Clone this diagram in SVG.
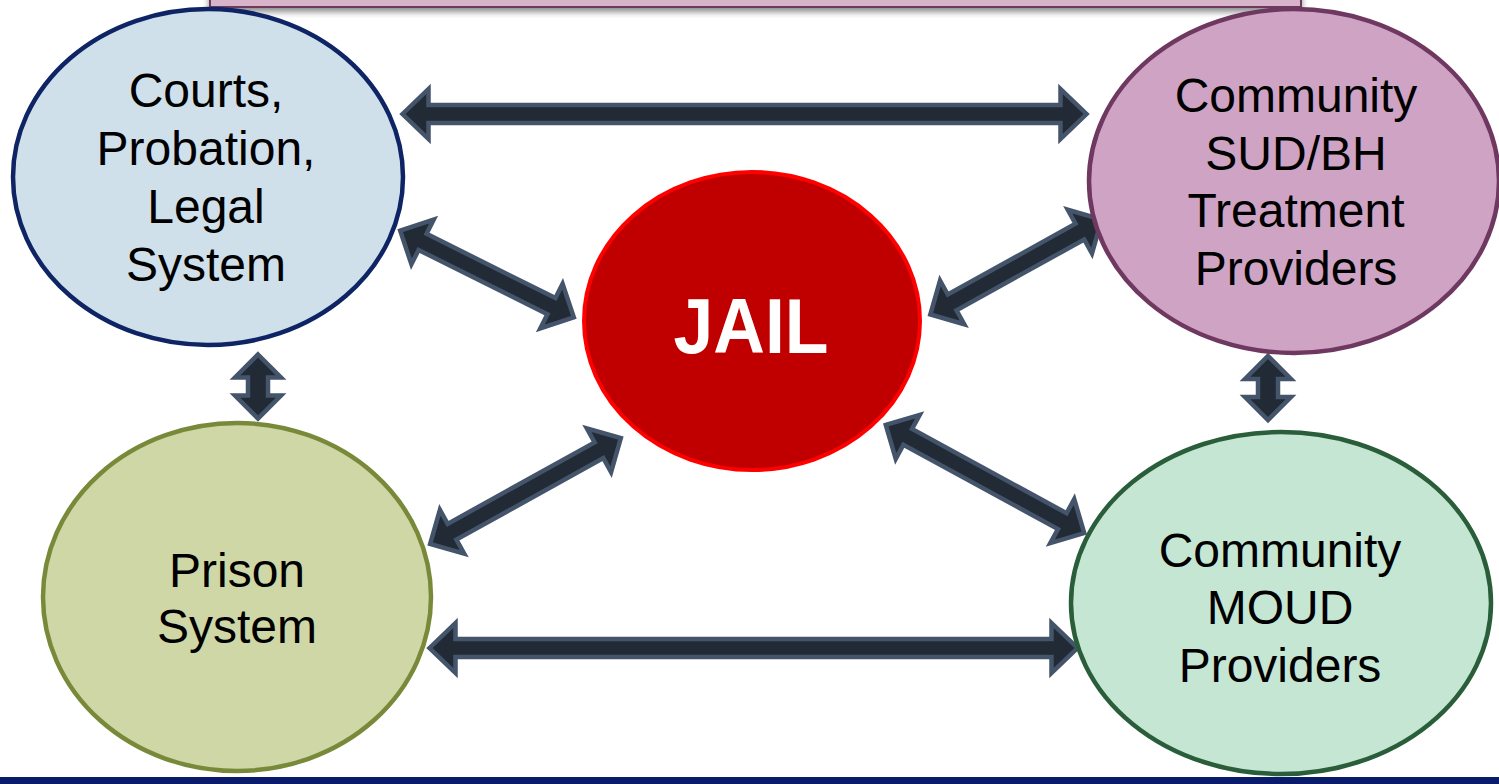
<svg xmlns="http://www.w3.org/2000/svg" width="1499" height="784" viewBox="0 0 1499 784">
<defs>
<filter id="sh" x="-5%" y="-50%" width="110%" height="300%">
<feGaussianBlur in="SourceAlpha" stdDeviation="3"/>
<feOffset dx="0" dy="4"/>
<feComponentTransfer><feFuncA type="linear" slope="0.45"/></feComponentTransfer>
<feMerge><feMergeNode/><feMergeNode in="SourceGraphic"/></feMerge>
</filter>
</defs>
<style>
.lbl{font-family:"Liberation Sans",Arial,sans-serif;font-size:48px;fill:#000;text-anchor:middle}
.arr{fill:#222A35;stroke:#44546A;stroke-width:4.5;stroke-linejoin:miter}
.node{stroke-width:4.5}
</style>
<rect width="1499" height="784" fill="#FFFFFF"/>
<g id="banner">
<rect x="210" y="-10" width="1091" height="17" fill="#D8B4CB" stroke="#6E3A5F" stroke-width="2" filter="url(#sh)"/>
</g>
<g id="bottom-bar">
<rect x="0" y="777" width="1499" height="7" fill="#0B1B6B"/>
</g>
<g id="connectors">
<!-- top horizontal -->
<path class="arr" transform="translate(744.5,114)" d="M-342,0 L-316,-25 L-316,-9 L316,-9 L316,-25 L342,0 L316,25 L316,9 L-316,9 L-316,25 Z"/>
<!-- bottom horizontal -->
<path class="arr" transform="translate(753.5,648)" d="M-324,0 L-298,-25 L-298,-9 L298,-9 L298,-25 L324,0 L298,25 L298,9 L-298,9 L-298,25 Z"/>
<!-- left vertical -->
<path class="arr" transform="translate(258,386.5) rotate(90)" d="M-32,0 L-9,-23 L-9,-10 L9,-10 L9,-23 L32,0 L9,23 L9,10 L-9,10 L-9,23 Z"/>
<!-- right vertical -->
<path class="arr" transform="translate(1268,388) rotate(90)" d="M-32,0 L-9,-23 L-9,-10 L9,-10 L9,-23 L32,0 L9,23 L9,10 L-9,10 L-9,23 Z"/>
<!-- courts - jail -->
<path class="arr" transform="translate(487,274) rotate(26.5)" d="M-97,0 L-72,-25 L-72,-9 L72,-9 L72,-25 L97,0 L72,25 L72,9 L-72,9 L-72,25 Z"/>
<!-- sud - jail -->
<path class="arr" transform="translate(1016,267) rotate(-29)" d="M-98,0 L-73,-25 L-73,-9 L73,-9 L73,-25 L98,0 L73,25 L73,9 L-73,9 L-73,25 Z"/>
<!-- prison - jail -->
<path class="arr" transform="translate(525.5,491) rotate(-29)" d="M-109,0 L-84,-25 L-84,-9 L84,-9 L84,-25 L109,0 L84,25 L84,9 L-84,9 L-84,25 Z"/>
<!-- moud - jail -->
<path class="arr" transform="translate(985,479) rotate(28.6)" d="M-113,0 L-88,-25 L-88,-9 L88,-9 L88,-25 L113,0 L88,25 L88,9 L-88,9 L-88,25 Z"/>
</g>
<g id="courts">
<ellipse class="node" cx="208" cy="177" rx="195" ry="168" fill="#CFE0EB" stroke="#0E2464"/>
<text class="lbl" x="206" y="107">Courts,</text>
<text class="lbl" x="206" y="165">Probation,</text>
<text class="lbl" x="206" y="223">Legal</text>
<text class="lbl" x="206" y="281">System</text>
</g>
<g id="sud-bh">
<ellipse class="node" cx="1294" cy="181" rx="205" ry="172" fill="#CFA3C4" stroke="#6E3860"/>
<text class="lbl" x="1296" y="112">Community</text>
<text class="lbl" x="1296" y="170">SUD/BH</text>
<text class="lbl" x="1296" y="227">Treatment</text>
<text class="lbl" x="1296" y="285">Providers</text>
</g>
<g id="prison">
<ellipse class="node" cx="237" cy="597" rx="194" ry="174" fill="#CFD7A6" stroke="#788A3A"/>
<text class="lbl" x="237" y="587">Prison</text>
<text class="lbl" x="237" y="643">System</text>
</g>
<g id="moud">
<ellipse class="node" cx="1281" cy="603" rx="210" ry="171" fill="#C6E6D4" stroke="#2A5E3A"/>
<text class="lbl" x="1280" y="567">Community</text>
<text class="lbl" x="1280" y="624">MOUD</text>
<text class="lbl" x="1280" y="682">Providers</text>
</g>
<g id="jail">
<ellipse cx="752" cy="321" rx="168" ry="149" fill="#C00000" stroke="#FF0000" stroke-width="4"/>
<text x="751" y="353" font-family="Liberation Sans, Arial, sans-serif" font-weight="bold" font-size="78" fill="#FFFFFF" text-anchor="middle" textLength="155" lengthAdjust="spacingAndGlyphs">JAIL</text>
</g>
</svg>
